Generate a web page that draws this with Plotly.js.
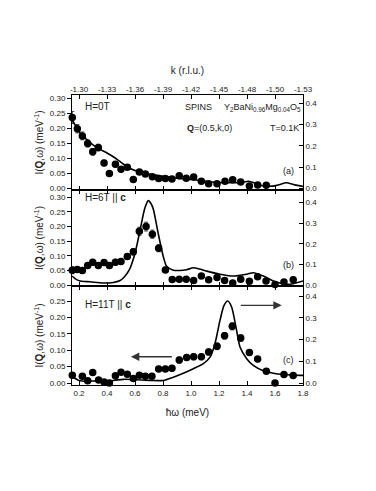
<!DOCTYPE html>
<html>
<head>
<meta charset="utf-8">
<script src="https://cdn.plot.ly/plotly-3.0.1.min.js"></script>
<style>html,body{margin:0;padding:0;background:#fff;}#chart{width:376px;height:491px;}</style>
</head>
<body>
<div id="chart"></div>
<script>
// ---------- data ----------
// panel (a) H=0T : measured points (left axis)
var aX = [0.152,0.188,0.224,0.262,0.298,0.338,0.379,0.417,0.46,0.50,0.545,0.588,0.631,0.674,0.724,0.769,0.817,0.864,0.916,0.966,1.019,1.074,1.126,1.186,1.243,1.298,1.355,1.417,1.476,1.538];
var aY = [0.236,0.199,0.175,0.150,0.122,0.136,0.085,0.050,0.081,0.064,0.071,0.030,0.055,0.048,0.039,0.033,0.033,0.032,0.042,0.034,0.038,0.024,0.016,0.016,0.024,0.029,0.022,0.008,0.012,0.011];
var aErr = [0.02,0.014,0.013,0.012,0.011,0.011,0.009,0.008,0.009,0.008,0.008,0.007,0.007,0.007,0.006,0.006,0.006,0.006,0.006,0.006,0.006,0.005,0.005,0.005,0.006,0.006,0.006,0.006,0.006,0.006];
// panel (a) calculation (right axis)
var aLineX = [0.15,0.2,0.25,0.3,0.35,0.4,0.45,0.5,0.55,0.6,0.65,0.7,0.8,0.9,1.0,1.1,1.2,1.3,1.36,1.41,1.46,1.51,1.58,1.63,1.68,1.74,1.8];
var aLineY = [0.325,0.268,0.233,0.205,0.184,0.167,0.147,0.123,0.099,0.085,0.075,0.068,0.057,0.048,0.042,0.035,0.028,0.027,0.028,0.034,0.025,0.013,0.011,0.018,0.027,0.017,0.010];

// panel (b) H=6T || c
var bX = [0.152,0.188,0.224,0.262,0.298,0.338,0.379,0.417,0.46,0.50,0.545,0.588,0.631,0.679,0.724,0.769,0.817,0.866,0.916,0.966,1.019,1.074,1.126,1.186,1.24,1.298,1.355,1.417,1.476,1.536,1.60,1.664,1.73];
var bY = [0.051,0.053,0.050,0.067,0.078,0.067,0.077,0.067,0.078,0.081,0.098,0.114,0.184,0.200,0.174,0.126,0.052,0.019,0.020,0.020,0.016,0.031,0.018,0.026,0.016,0.007,0.020,0.013,0.029,0.014,0.002,0.011,0.018];
var bErr = [0.012,0.01,0.01,0.01,0.01,0.01,0.01,0.01,0.01,0.01,0.01,0.011,0.014,0.015,0.014,0.012,0.009,0.006,0.006,0.006,0.006,0.006,0.006,0.006,0.006,0.006,0.006,0.006,0.007,0.007,0.007,0.008,0.009];
var bLineX = [0.15,0.18,0.21,0.28,0.37,0.445,0.49,0.52,0.56,0.60,0.636,0.671,0.695,0.715,0.731,0.766,0.802,0.826,0.874,0.92,0.969,1.017,1.06,1.112,1.207,1.302,1.398,1.445,1.517,1.588,1.683,1.731,1.8];
var bLineY = [0.044,0.028,0.020,0.016,0.010,0.013,0.021,0.037,0.075,0.155,0.266,0.375,0.410,0.395,0.368,0.250,0.139,0.091,0.072,0.071,0.075,0.084,0.078,0.068,0.053,0.044,0.053,0.060,0.044,0.020,0.004,0.007,0.020];

// panel (c) H=11T || c
var cX = [0.152,0.224,0.262,0.298,0.34,0.379,0.417,0.46,0.50,0.545,0.588,0.631,0.674,0.721,0.769,0.817,0.864,0.916,0.969,1.019,1.074,1.126,1.186,1.24,1.295,1.355,1.417,1.476,1.538,1.60,1.664,1.73];
var cY = [0.024,0.021,0.007,0.032,0.009,0.003,0.000,0.022,0.033,0.027,0.014,0.024,0.021,0.021,0.043,0.043,0.045,0.070,0.078,0.080,0.080,0.095,0.112,0.144,0.173,0.137,0.093,0.073,0.036,0.000,0.026,0.023];
var cErr = [0.007,0.007,0.007,0.007,0.007,0.007,0.007,0.007,0.007,0.007,0.007,0.007,0.007,0.007,0.008,0.008,0.008,0.009,0.009,0.009,0.009,0.009,0.01,0.01,0.011,0.01,0.009,0.008,0.007,0.006,0.007,0.007];
var cLineX = [0.15,0.2,0.26,0.293,0.445,0.517,0.612,0.707,0.802,0.874,0.945,1.017,1.088,1.136,1.171,1.207,1.236,1.262,1.29,1.321,1.35,1.398,1.445,1.517,1.588,1.66,1.731,1.8];
var cLineY = [0.030,0.012,0.008,0.009,0.012,0.017,0.015,0.012,0.012,0.027,0.045,0.066,0.089,0.119,0.181,0.288,0.357,0.377,0.350,0.258,0.166,0.112,0.081,0.056,0.045,0.039,0.036,0.035];

// tick labels
var botTicks = [0.2,0.4,0.6,0.8,1.0,1.2,1.4,1.6,1.8];
var botLabels = ['0.2','0.4','0.6','0.8','1.0','1.2','1.4','1.6','1.8'];
var kLabels = ['-1.30','-1.33','-1.36','-1.39','-1.42','-1.45','-1.48','-1.50','-1.53'];
var leftTicksAB = [0,0.05,0.10,0.15,0.20,0.25,0.30];
var leftTicksC = [0,0.05,0.10,0.15,0.20,0.25];
var rightTicks = [0,0.1,0.2,0.3,0.4];

// ---------- traces ----------
var FONT = 'Liberation Sans, Arial, sans-serif';
function pts(x, y, e, xa, ya) {
  return {x:x, y:y, xaxis:xa, yaxis:ya, type:'scatter', mode:'markers',
    marker:{color:'#000', size:7.5},
    error_y:{type:'data', array:e, visible:true, color:'#444', thickness:1, width:2},
    cliponaxis:false, showlegend:false, hoverinfo:'skip'};
}
function line(x, y, xa, ya) {
  return {x:x, y:y, xaxis:xa, yaxis:ya, type:'scatter', mode:'lines',
    line:{color:'#000', width:1.6, shape:'spline', smoothing:0.7},
    showlegend:false, hoverinfo:'skip'};
}
var traces = [
  line(aLineX, aLineY, 'x3', 'y2'),
  pts(aX, aY, aErr, 'x3', 'y'),
  line(bLineX, bLineY, 'x2', 'y4'),
  pts(bX, bY, bErr, 'x2', 'y3'),
  line(cLineX, cLineY, 'x', 'y6'),
  pts(cX, cY, cErr, 'x', 'y5'),
  {x:[0.15], y:[0], xaxis:'x4', yaxis:'y', type:'scatter', mode:'markers', marker:{opacity:0}, showlegend:false, hoverinfo:'skip'}
];

// ---------- layout ----------
var XR = [0.15, 1.8];
var tickFont = {family:FONT, size:8, color:'#222'};
function xax(extra) {
  var o = {range:XR, showline:true, linecolor:'#000', linewidth:1, mirror:'ticks',
    ticks:'inside', ticklen:4, tickcolor:'#000', tickvals:botTicks, ticktext:botLabels,
    showgrid:false, zeroline:false, tickfont:tickFont};
  for (var k in extra) o[k] = extra[k];
  return o;
}
function yl(dom, anchor, range, tv, fmt) {
  return {domain:dom, anchor:anchor, range:range, tickvals:tv, tickformat:fmt,
    showline:true, linecolor:'#000', linewidth:1, ticks:'outside', ticklen:4, tickcolor:'#000',
    showgrid:false, zeroline:false, tickfont:tickFont,
    title:{text:'I(<b>Q</b>,ω) (meV<sup>-1</sup>)', font:{family:FONT, size:10, color:'#222'}, standoff:4}};
}
function yr(over, anchor, range) {
  return {overlaying:over, anchor:anchor, side:'right', range:range, tickvals:rightTicks, tickformat:'.1f',
    showline:true, linecolor:'#000', linewidth:1, ticks:'inside', ticklen:4, tickcolor:'#000',
    showgrid:false, zeroline:false, tickfont:tickFont};
}
var domA = [0.6724, 1], domB = [0.3414, 0.6724], domC = [0, 0.3414];
var rA = [-0.005, 0.311], rB = [-0.003, 0.325], rC = [-0.006, 0.296];
var annFont = {family:FONT, size:10, color:'#222'};
var smallFont = {family:FONT, size:9, color:'#222'};
var layout = {
  width:376, height:491, paper_bgcolor:'#fff', plot_bgcolor:'#fff',
  margin:{l:72, r:73, t:95, b:106},
  font:{family:FONT, color:'#222'},
  xaxis: xax({anchor:'y5', title:{text:'ħω (meV)', font:{family:FONT, size:10, color:'#222'}, standoff:12}}),
  xaxis2: xax({anchor:'y3', matches:'x', showticklabels:false}),
  xaxis3: xax({anchor:'y', matches:'x', showticklabels:false}),
  xaxis4: {overlaying:'x3', anchor:'y', side:'top', range:XR, tickvals:botTicks, ticktext:kLabels,
    ticks:'inside', ticklen:4, tickcolor:'#000', showline:false, showgrid:false, zeroline:false,
    tickfont:tickFont, title:{text:'k (r.l.u.)', font:{family:FONT, size:10, color:'#222'}, standoff:8}},
  yaxis: yl(domA, 'x3', rA, leftTicksAB, '.2f'),
  yaxis2: yr('y', 'x3', [rA[0]*1.413, rA[1]*1.413]),
  yaxis3: yl(domB, 'x2', rB, leftTicksAB, '.2f'),
  yaxis4: yr('y3', 'x2', [rB[0]*1.42, rB[1]*1.42]),
  yaxis5: yl(domC, 'x', rC, leftTicksC, '.2f'),
  yaxis6: yr('y5', 'x', [rC[0]*1.508, rC[1]*1.508]),
  annotations: [
    {xref:'paper', yref:'paper', x:0.048, y:0.962, xanchor:'left', yanchor:'middle', text:'H=0T', showarrow:false, font:annFont},
    {xref:'paper', yref:'paper', x:0.48, y:0.959, xanchor:'left', yanchor:'middle', text:'SPINS', showarrow:false, font:smallFont},
    {xref:'paper', yref:'paper', x:0.648, y:0.957, xanchor:'left', yanchor:'middle', text:'Y<sub>2</sub>BaNi<sub>0.96</sub>Mg<sub>0.04</sub>O<sub>5</sub>', showarrow:false, font:smallFont},
    {xref:'paper', yref:'paper', x:0.489, y:0.886, xanchor:'left', yanchor:'middle', text:'<b>Q</b>=(0.5,k,0)', showarrow:false, font:smallFont},
    {xref:'paper', yref:'paper', x:0.848, y:0.886, xanchor:'left', yanchor:'middle', text:'T=0.1K', showarrow:false, font:smallFont},
    {xref:'paper', yref:'paper', x:0.97, y:0.738, xanchor:'right', yanchor:'middle', text:'(a)', showarrow:false, font:smallFont},
    {xref:'paper', yref:'paper', x:0.048, y:0.648, xanchor:'left', yanchor:'middle', text:'H=6T || <b>c</b>', showarrow:false, font:annFont},
    {xref:'paper', yref:'paper', x:0.97, y:0.413, xanchor:'right', yanchor:'middle', text:'(b)', showarrow:false, font:smallFont},
    {xref:'paper', yref:'paper', x:0.048, y:0.279, xanchor:'left', yanchor:'middle', text:'H=11T || <b>c</b>', showarrow:false, font:annFont},
    {xref:'paper', yref:'paper', x:0.97, y:0.086, xanchor:'right', yanchor:'middle', text:'(c)', showarrow:false, font:smallFont},
    {xref:'x', yref:'y5', axref:'x', ayref:'y5', x:1.648, y:0.237, ax:1.345, ay:0.237, text:'', showarrow:true, arrowhead:2, arrowsize:1.2, arrowwidth:1.4, arrowcolor:'#333'},
    {xref:'x', yref:'y5', axref:'x', ayref:'y5', x:0.571, y:0.080, ax:0.874, ay:0.080, text:'', showarrow:true, arrowhead:2, arrowsize:1.2, arrowwidth:1.4, arrowcolor:'#333'}
  ]
};
Plotly.newPlot('chart', traces, layout, {staticPlot:true, displayModeBar:false});
</script>
</body>
</html>
